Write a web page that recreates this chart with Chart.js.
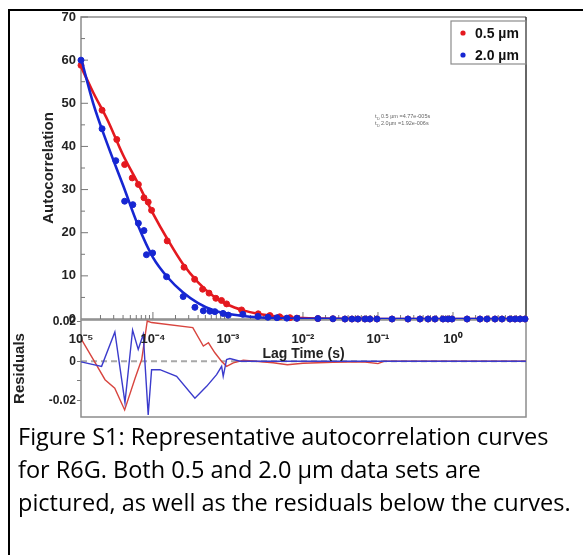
<!DOCTYPE html>
<html>
<head>
<meta charset="utf-8">
<script src="https://cdn.jsdelivr.net/npm/chart.js@4.4.1/dist/chart.umd.min.js"></script>
<style>
  html, body { margin: 0; padding: 0; background: #fff; }
  #frame { position: absolute; left: 8px; top: 9px; width: 590px; height: 600px; border: 2px solid #000; box-sizing: border-box; }
  #resid { position: absolute; left: 0; top: 300px; }
  #main { position: absolute; left: 0; top: 0; }
  #caption { position: absolute; left: 18px; top: 420px; font-family: 'Open Sans', Lato, sans-serif; font-size: 23.5px; line-height: 33px; color: #000; white-space: nowrap; }
</style>
</head>
<body>
<div id="frame"></div>
<canvas id="resid" width="583" height="130"></canvas>
<canvas id="main" width="583" height="370"></canvas>
<div id="caption">Figure S1: Representative autocorrelation curves<br>for R6G. Both 0.5 and 2.0 µm data sets are<br>pictured, as well as the residuals below the curves.</div>
<script>
// measured autocorrelation, 0.5 um
const redLag = [1.1e-5, 2.1e-5, 3.3e-5, 4.2e-5, 5.3e-5, 6.4e-5, 7.6e-5, 8.65e-5, 9.6e-5, 1.55e-4, 2.6e-4, 3.6e-4, 4.6e-4, 5.6e-4, 6.9e-4, 8.2e-4, 9.6e-4,
  1.52e-3, 2.53e-3, 3.63e-3, 4.9e-3, 6.7e-3, 8.3e-3, 0.0158, 0.0251, 0.0363, 0.045, 0.054, 0.067, 0.078, 0.097, 0.154, 0.251, 0.363, 0.465, 0.575, 0.736, 0.857, 0.97, 1.54, 2.29, 2.84, 3.63, 4.5, 5.75, 6.71, 7.82, 9.12];
const redG = [58.8, 48.4, 41.6, 35.8, 32.7, 31.2, 28.1, 27.1, 25.2, 18.1, 12.0, 9.2, 6.9, 6.0, 4.8, 4.3, 3.5,
  2.1, 1.2, 0.8, 0.5, 0.3, 0.2, 0.1, 0.05, 0, 0, 0, 0, 0, 0, 0, 0, 0, 0, 0, 0, 0, 0, 0, 0, 0, 0, 0, 0, 0, 0, 0];

// measured autocorrelation, 2.0 um
const blueLag = [1.1e-5, 2.1e-5, 3.2e-5, 4.2e-5, 5.4e-5, 6.4e-5, 7.6e-5, 8.2e-5, 9.9e-5, 1.52e-4, 2.53e-4, 3.63e-4, 4.7e-4, 5.75e-4, 6.7e-4, 8.6e-4, 1.01e-3,
  1.58e-3, 2.51e-3, 3.41e-3, 4.5e-3, 6.1e-3, 8.3e-3, 0.0158, 0.0251, 0.0363, 0.045, 0.054, 0.067, 0.078, 0.097, 0.154, 0.251, 0.363, 0.465, 0.575, 0.736, 0.857, 0.97, 1.54, 2.29, 2.84, 3.63, 4.5, 5.75, 6.71, 7.82, 9.12];
const blueG = [60.0, 44.1, 36.7, 27.3, 26.5, 22.2, 20.5, 14.9, 15.3, 9.8, 5.2, 2.7, 1.9, 1.8, 1.7, 1.3, 0.9,
  1.1, 0.6, 0.4, 0.3, 0.2, 0.15, 0.1, 0.05, 0, 0, 0, 0, 0, 0, 0, 0, 0, 0, 0, 0, 0, 0, 0, 0, 0, 0, 0, 0, 0, 0, 0];

// fitted curves
const fitLag = [1.1e-5, 1.6e-5, 2.5e-5, 4.0e-5, 6.3e-5, 1.0e-4, 1.6e-4, 2.5e-4, 4.0e-4, 6.3e-4, 1.0e-3, 1.6e-3, 2.5e-3, 4.0e-3, 6.3e-3, 0.01, 0.016, 0.025, 0.04, 0.1, 1, 9.4];
const redFit = [58.5, 52.5, 46.0, 38.0, 31.5, 24.5, 18.2, 12.8, 8.5, 5.4, 3.3, 2.0, 1.2, 0.7, 0.4, 0.22, 0.12, 0.06, 0.03, 0.01, 0, 0];
const blueFit = [60.5, 50.0, 40.3, 31.0, 21.8, 14.3, 9.5, 6.2, 3.7, 2.1, 1.2, 0.7, 0.4, 0.22, 0.12, 0.06, 0.03, 0.02, 0.01, 0, 0, 0];

// residuals
const redResLag = [1.1e-5, 1.6e-5, 2.3e-5, 3.1e-5, 4.2e-5, 5.8e-5, 7.1e-5, 8.4e-5, 9.6e-5, 3.4e-4, 4.7e-4, 5.5e-4, 6.7e-4, 8.2e-4, 9.6e-4, 1.18e-3, 1.6e-3, 4.0e-3, 6.2e-3, 0.01, 0.025, 0.063, 0.1, 0.12, 9.4];
const redRes = [0.0115, 0.001, -0.0094, -0.0137, -0.0248, -0.0085, 0.001, 0.0205, 0.0197, 0.0171, 0.0077, 0.0094, 0.0043, 0, -0.0026, -0.0008, 0.0005, -0.0008, -0.0018, -0.001, -0.0005, -0.0003, -0.0012, 0, 0];
const blueResLag = [1.1e-5, 2.07e-5, 3.11e-5, 4.24e-5, 5.36e-5, 6.37e-5, 7.43e-5, 8.65e-5, 9.6e-5, 1.24e-4, 2.07e-4, 3.63e-4, 5.2e-4, 7.06e-4, 8.24e-4, 8.65e-4, 9.6e-4, 1.06e-3, 1.45e-3, 9.4];
const blueRes = [-0.0003, -0.0026, 0.0149, -0.021, 0.0159, 0.006, 0.0137, -0.0273, -0.0043, -0.0043, -0.0077, -0.0188, -0.0128, -0.0068, -0.0026, -0.0077, 0.0009, 0.0014, 0, 0];

const seriesNames = ['0.5 µm', '2.0 µm'];
const tauText = ['0.5 µm =4.77e-005s', '2.0µm =1.92e-006s'];
const xMin = 1.1e-5, xMax = 9.4;

const RED = '#e4191f';
const BLUE = '#1626d2';
const SANS = "'Liberation Sans', Arial, sans-serif";

const pairs = (xs, ys) => xs.map((x, i) => ({ x: x, y: ys[i] }));
const SUP = { '-': '⁻', '0': '⁰', '1': '¹', '2': '²', '3': '³', '4': '⁴', '5': '⁵' };
const supText = (n) => String(n).split('').map(c => SUP[c]).join('');
const isDecade = (v) => { const l = Math.log10(v); return Math.abs(l - Math.round(l)) < 1e-6; };

// frame + inward ticks for the upper panel
const mainDeco = {
  id: 'mainDeco',
  beforeDatasetsDraw(chart) {
    const { ctx, chartArea: a, scales: { x, y } } = chart;
    ctx.save();
    ctx.lineWidth = 1.5;
    ctx.strokeStyle = '#8c8c8c';
    ctx.beginPath();
    ctx.moveTo(a.right, a.top); ctx.lineTo(a.left, a.top); ctx.lineTo(a.left, a.bottom); ctx.lineTo(a.right, a.bottom);
    ctx.stroke();
    ctx.strokeStyle = '#333';
    ctx.beginPath(); ctx.moveTo(a.right, a.top); ctx.lineTo(a.right, a.bottom); ctx.stroke();

    ctx.strokeStyle = '#777';
    ctx.lineWidth = 1;
    x.ticks.forEach(t => {
      const px = x.getPixelForValue(t.value);
      if (px < a.left + 2 || px > a.right - 2) return;
      const sig = t.value / Math.pow(10, Math.floor(Math.log10(t.value) + 1e-9));
      if (Math.abs(sig - 1.5) < 1e-6) return;
      const len = isDecade(t.value) ? 7 : 4;
      ctx.beginPath(); ctx.moveTo(px, a.bottom); ctx.lineTo(px, a.bottom - len); ctx.stroke();
    });
    y.ticks.forEach(t => {
      const py = y.getPixelForValue(t.value);
      if (t.value <= 0) return;
      const len = t.value % 10 === 0 ? 7 : 4;
      ctx.beginPath(); ctx.moveTo(a.left, py); ctx.lineTo(a.left + len, py); ctx.stroke();
    });
    ctx.restore();
  },
  afterDraw(chart) {
    const { ctx, chartArea: a } = chart;
    ctx.save();
    // legend box
    const bx = a.right - 75, by = a.top + 4, bw = 75, bh = 43;
    ctx.strokeStyle = '#8c8c8c';
    ctx.lineWidth = 1.2;
    ctx.strokeRect(bx, by, bw, bh);
    ctx.font = 'bold 14px ' + SANS;
    ctx.textBaseline = 'middle';
    [0, 1].forEach(i => {
      const ds = chart.data.datasets[i];
      const cy = by + 12 + i * 22;
      ctx.fillStyle = ds.backgroundColor;
      ctx.beginPath(); ctx.arc(bx + 12, cy, 2.6, 0, Math.PI * 2); ctx.fill();
      ctx.fillStyle = '#111';
      ctx.fillText(ds.label, bx + 24, cy + 1);
    });
    // fit parameters
    ctx.fillStyle = '#666';
    ctx.textBaseline = 'alphabetic';
    tauText.forEach((s, i) => {
      const ty = 118 + i * 7;
      ctx.font = '6px ' + SANS;
      ctx.fillText('t', 375, ty);
      ctx.font = '4px ' + SANS;
      ctx.fillText('D', 377, ty + 1.5);
      ctx.font = '5.5px ' + SANS;
      ctx.fillText(s, 381, ty);
    });
    ctx.restore();
  }
};

// frame + dashed zero line for the residual panel
const residDeco = {
  id: 'residDeco',
  beforeDatasetsDraw(chart) {
    const { ctx, chartArea: a, scales: { y } } = chart;
    ctx.save();
    const y0 = y.getPixelForValue(0);
    ctx.strokeStyle = '#a8a8a8';
    ctx.lineWidth = 1.8;
    ctx.setLineDash([6, 4]);
    ctx.beginPath(); ctx.moveTo(a.left, y0); ctx.lineTo(a.right, y0); ctx.stroke();
    ctx.setLineDash([]);
    ctx.strokeStyle = '#8c8c8c';
    ctx.lineWidth = 1.5;
    ctx.strokeRect(a.left, a.top, a.right - a.left, a.bottom - a.top);
    ctx.restore();
  }
};

new Chart(document.getElementById('resid'), {
  type: 'line',
  data: {
    datasets: [
      { label: 'res 2.0', data: pairs(blueResLag, blueRes), borderColor: '#3b3bcc', borderWidth: 1.4, pointRadius: 0, tension: 0, order: 0 },
      { label: 'res 0.5', data: pairs(redResLag, redRes), borderColor: '#d8453f', borderWidth: 1.4, pointRadius: 0, tension: 0, order: 1 }
    ]
  },
  options: {
    responsive: false,
    animation: false,
    devicePixelRatio: 1,
    layout: { padding: { left: 0, top: 20, right: 57, bottom: 13 } },
    plugins: { legend: { display: false }, tooltip: { enabled: false } },
    scales: {
      x: { type: 'logarithmic', min: xMin, max: xMax, display: false },
      y: {
        min: -0.0284, max: 0.021,
        afterFit: (s) => { s.width = 81; },
        border: { display: false },
        grid: {
          drawOnChartArea: false, drawTicks: true, tickLength: 4, lineWidth: 1,
          color: (c) => { const v = c.tick.value * 100; return Math.abs(v - Math.round(v)) < 1e-6 ? '#777' : 'rgba(0,0,0,0)'; }
        },
        ticks: {
          autoSkip: false, includeBounds: false, stepSize: 0.01, padding: 1, color: '#222', font: { family: SANS, size: 12, weight: 'bold' },
          callback: (v) => {
            if (Math.abs(v - 0.02) < 1e-6) return '0.02';
            if (Math.abs(v) < 1e-6) return '0';
            if (Math.abs(v + 0.02) < 1e-6) return '-0.02';
            return '';
          }
        },
        title: { display: true, text: 'Residuals', color: '#222', font: { family: SANS, size: 15, weight: 'bold' }, padding: { top: 11, bottom: 0 } }
      }
    }
  },
  plugins: [residDeco]
});

new Chart(document.getElementById('main'), {
  type: 'scatter',
  data: {
    datasets: [
      { label: seriesNames[0], data: pairs(redLag, redG), backgroundColor: RED, borderColor: RED, pointRadius: 3, showLine: false, clip: false, order: 3 },
      { label: seriesNames[1], data: pairs(blueLag, blueG), backgroundColor: BLUE, borderColor: BLUE, pointRadius: 3, showLine: false, clip: false, order: 1 },
      { label: 'fit 0.5', data: pairs(fitLag, redFit), borderColor: RED, borderWidth: 2.6, pointRadius: 0, showLine: true, cubicInterpolationMode: 'monotone', order: 2 },
      { label: 'fit 2.0', data: pairs(fitLag, blueFit), borderColor: BLUE, borderWidth: 2.6, pointRadius: 0, showLine: true, cubicInterpolationMode: 'monotone', order: 0 }
    ]
  },
  options: {
    responsive: false,
    animation: false,
    devicePixelRatio: 1,
    layout: { padding: { left: 0, top: 17, right: 57, bottom: 0 } },
    plugins: { legend: { display: false }, tooltip: { enabled: false } },
    scales: {
      x: {
        type: 'logarithmic', min: xMin, max: xMax, position: 'bottom',
        afterFit: (s) => { s.height = 51; },
        border: { display: false },
        grid: { display: false, drawTicks: false },
        ticks: {
          autoSkip: false, maxRotation: 0, padding: 13, color: '#222',
          font: { family: SANS, size: 13, weight: 'bold' },
          callback: (v, i) => {
            if (i === 0) return '10' + supText(-5);
            return isDecade(v) ? '10' + supText(Math.round(Math.log10(v))) : '';
          }
        },
        title: { display: true, text: 'Lag Time (s)', color: '#222', font: { family: SANS, size: 14, weight: 'bold' }, padding: { top: 0, bottom: 7 } }
      },
      y: {
        min: 0, max: 70,
        afterFit: (s) => { s.width = 81; },
        border: { display: false },
        grid: { display: false, drawTicks: false },
        ticks: {
          stepSize: 5, padding: 5, color: '#222',
          font: { family: SANS, size: 13, weight: 'bold' },
          callback: (v) => v % 10 === 0 ? String(v) : ''
        },
        title: { display: true, text: 'Autocorrelation', color: '#222', font: { family: SANS, size: 15, weight: 'bold' }, padding: { top: 40, bottom: 0 } }
      }
    }
  },
  plugins: [mainDeco]
});
</script>
</body>
</html>
